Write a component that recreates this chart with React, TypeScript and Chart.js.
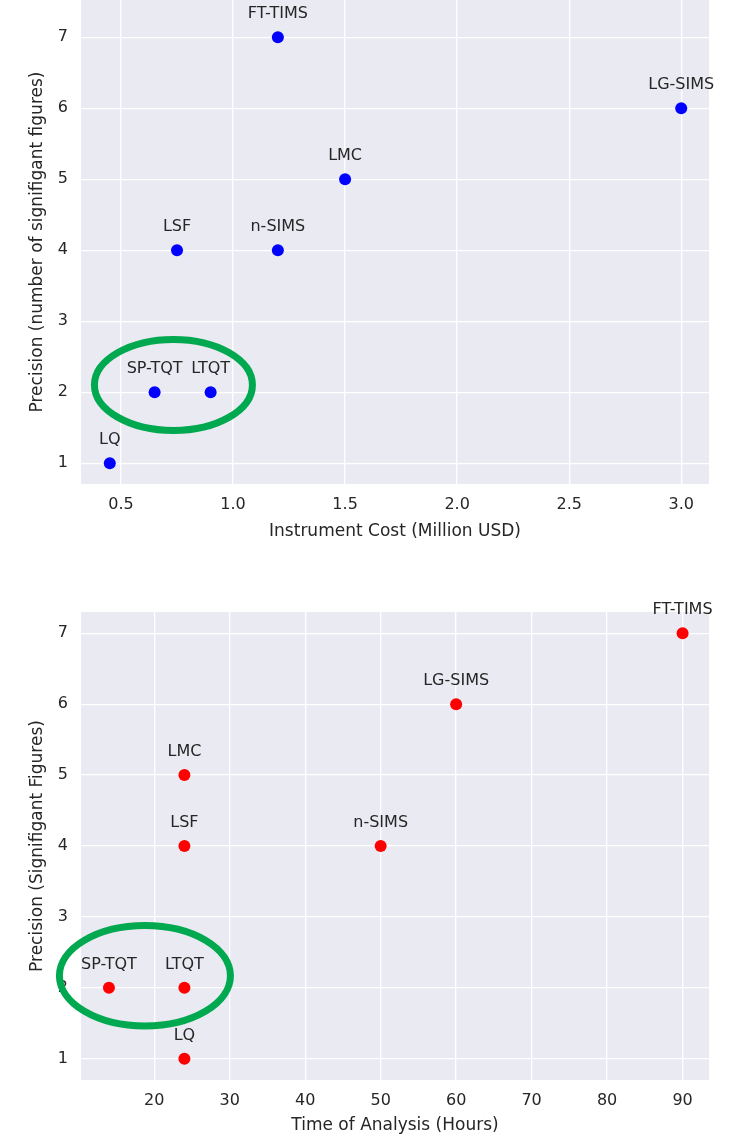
import React, { useEffect, useRef } from 'react';
import { Chart, registerables } from 'chart.js';

Chart.register(...registerables);

// ---- data ----
const INSTRUMENTS = ['LQ', 'SP-TQT', 'LTQT', 'LSF', 'n-SIMS', 'FT-TIMS', 'LMC', 'LG-SIMS'];
const COST_MUSD = [0.45, 0.65, 0.9, 0.75, 1.2, 1.2, 1.5, 3.0];
const PRECISION_SIG_FIGS = [1, 2, 2, 4, 4, 7, 5, 6];
const TIME_HOURS = [24, 14, 24, 24, 50, 90, 24, 60];

const Y_TICKS = [1, 2, 3, 4, 5, 6, 7];
const COST_TICKS = [0.5, 1.0, 1.5, 2.0, 2.5, 3.0];
const TIME_TICKS = [20, 30, 40, 50, 60, 70, 80, 90];

// highlighted group (SP-TQT & LTQT) in data units: [centerX, centerY, radiusX, radiusY]
const COST_HIGHLIGHT = [0.734, 2.103, 0.3525, 0.641];
const TIME_HIGHLIGHT = [18.77, 2.17, 11.33, 0.709];

const FONT = "'DejaVu Sans', 'Liberation Sans', sans-serif";
const TEXT = '#262626';

type PanelProps = {
  width: number;
  height: number;
  xs: number[];
  ys: number[];
  labels: string[];
  color: string;
  xMin: number;
  xMax: number;
  yMin: number;
  yMax: number;
  xTicks: number[];
  decimals: number;
  xTitle: string;
  yTitle: string;
  padTop: number;
  xAxisHeight: number;
  xTitlePadBottom: number;
  highlight: number[];
};

function ScatterPanel(p: PanelProps) {
  const ref = useRef<HTMLCanvasElement | null>(null);

  useEffect(() => {
    if (!ref.current) return;
    const bgPlugin = {
      id: 'plotBg',
      beforeDraw(chart: any) {
        const { ctx, chartArea } = chart;
        ctx.save();
        ctx.fillStyle = '#eaeaf2';
        ctx.fillRect(chartArea.left, chartArea.top, chartArea.right - chartArea.left, chartArea.bottom - chartArea.top);
        ctx.restore();
      },
    };
    const labelPlugin = {
      id: 'pointLabels',
      afterDatasetsDraw(chart: any) {
        const { ctx } = chart;
        const meta = chart.getDatasetMeta(0);
        ctx.save();
        ctx.font = `16px ${FONT}`;
        ctx.fillStyle = TEXT;
        ctx.textAlign = 'center';
        ctx.textBaseline = 'middle';
        meta.data.forEach((el: any, i: number) => {
          ctx.fillText(p.labels[i], el.x, el.y - 23);
        });
        ctx.restore();
      },
    };
    const ellipsePlugin = {
      id: 'highlightEllipse',
      afterDraw(chart: any) {
        const { ctx } = chart;
        const xs = chart.scales.x;
        const ys = chart.scales.y;
        const [cx, cy, rx, ry] = p.highlight;
        const px = xs.getPixelForValue(cx);
        const py = ys.getPixelForValue(cy);
        const rpx = Math.abs(xs.getPixelForValue(cx + rx) - px);
        const rpy = Math.abs(ys.getPixelForValue(cy + ry) - py);
        ctx.save();
        ctx.strokeStyle = '#00a84f';
        ctx.lineWidth = 7;
        ctx.beginPath();
        ctx.ellipse(px, py, rpx, rpy, 0, 0, Math.PI * 2);
        ctx.stroke();
        ctx.restore();
      },
    };

    const chart = new Chart(ref.current, {
      type: 'scatter',
      data: {
        datasets: [
          {
            data: p.xs.map((x, i) => ({ x, y: p.ys[i] })),
            backgroundColor: p.color,
            borderColor: p.color,
            borderWidth: 0,
            pointRadius: 6,
            pointHoverRadius: 6,
            clip: false,
          },
        ],
      },
      options: {
        responsive: false,
        animation: false,
        devicePixelRatio: 1,
        events: [],
        layout: { autoPadding: false, padding: { top: p.padTop, right: 22, left: 0, bottom: 0 } },
        plugins: {
          legend: { display: false },
          tooltip: { enabled: false },
          title: { display: false },
        },
        scales: {
          x: {
            type: 'linear',
            min: p.xMin,
            max: p.xMax,
            afterBuildTicks: (s: any) => {
              s.ticks = p.xTicks.map((v) => ({ value: v }));
            },
            afterFit: (s: any) => {
              s.height = p.xAxisHeight;
              s.paddingLeft = 0;
              s.paddingRight = 0;
              s.paddingTop = 0;
              s.paddingBottom = 0;
            },
            ticks: {
              color: TEXT,
              font: { family: FONT, size: 16 },
              padding: 11,
              maxRotation: 0,
              autoSkip: false,
              callback: (v: any) => Number(v).toFixed(p.decimals),
            },
            grid: { color: '#ffffff', lineWidth: 1.3, drawTicks: false },
            border: { display: false },
            title: {
              display: true,
              text: p.xTitle,
              color: TEXT,
              font: { family: FONT, size: 17 },
              padding: { top: 0, bottom: p.xTitlePadBottom },
            },
          },
          y: {
            type: 'linear',
            min: p.yMin,
            max: p.yMax,
            afterBuildTicks: (s: any) => {
              s.ticks = Y_TICKS.map((v) => ({ value: v }));
            },
            afterFit: (s: any) => {
              s.width = 81;
              s.paddingTop = 0;
              s.paddingBottom = 0;
              s.paddingLeft = 0;
              s.paddingRight = 0;
            },
            ticks: {
              color: TEXT,
              font: { family: FONT, size: 16 },
              padding: 13,
              autoSkip: false,
              callback: (v: any) => String(v),
            },
            grid: { color: '#ffffff', lineWidth: 1.3, drawTicks: false },
            border: { display: false },
            title: {
              display: true,
              text: p.yTitle,
              color: TEXT,
              font: { family: FONT, size: 17 },
              padding: { top: 27, bottom: 0 },
            },
          },
        },
      },
      plugins: [bgPlugin, labelPlugin, ellipsePlugin],
    } as any);

    return () => chart.destroy();
  }, []);

  return <canvas ref={ref} width={p.width} height={p.height} style={{ display: 'block', width: p.width, height: p.height }} />;
}

export default function App() {
  return (
    <div style={{ position: 'absolute', top: 0, left: 0, width: 731, height: 1136, background: '#ffffff' }}>
      <ScatterPanel
        width={731}
        height={552}
        xs={COST_MUSD}
        ys={PRECISION_SIG_FIGS}
        labels={INSTRUMENTS}
        color="#0000ff"
        xMin={0.3215}
        xMax={3.124}
        yMin={0.708}
        yMax={7.525}
        xTicks={COST_TICKS}
        decimals={1}
        xTitle="Instrument Cost (Million USD)"
        yTitle="Precision (number of signifigant figures)"
        padTop={0}
        xAxisHeight={68}
        xTitlePadBottom={10}
        highlight={COST_HIGHLIGHT}
      />
      <ScatterPanel
        width={731}
        height={584}
        xs={TIME_HOURS}
        ys={PRECISION_SIG_FIGS}
        labels={INSTRUMENTS}
        color="#ff0000"
        xMin={10.3}
        xMax={93.5}
        yMin={0.7}
        yMax={7.3}
        xTicks={TIME_TICKS}
        decimals={0}
        xTitle="Time of Analysis (Hours)"
        yTitle="Precision (Signifigant Figures)"
        padTop={60}
        xAxisHeight={56}
        xTitlePadBottom={0}
        highlight={TIME_HIGHLIGHT}
      />
    </div>
  );
}
